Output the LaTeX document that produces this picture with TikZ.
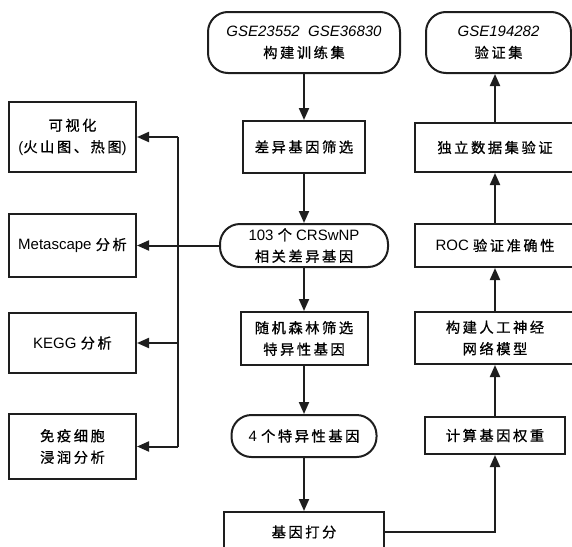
\documentclass[tikz,border=0pt]{standalone}
\usepackage{fontspec}
\setmainfont{Liberation Sans}
\newfontfamily\cjk[Scale=0.95,LetterSpace=18,FakeBold=0.8]{Noto Sans CJK SC}
\usepackage{tikz}
\usetikzlibrary{arrows.meta, positioning}
\definecolor{mydark}{RGB}{30,30,30}
\newcommand{\zh}[1]{{\cjk #1}}
\tikzset{
  block/.style={rectangle, draw=mydark, align=center, inner sep=0pt,
    font=\fontsize{15}{21.5}\selectfont, line width=2pt},
  term/.style={block, rounded corners=20pt},
  arrow/.style={-{Triangle[length=12pt,width=10pt]}, line width=2pt, color=mydark},
  line/.style={line width=2pt, color=mydark}
}

\begin{document}
\begin{tikzpicture}[x=1pt, y=-1pt]
  \useasboundingbox (0,0) rectangle (572,546);
  % middle column
  \node[term, minimum width=192pt, minimum height=61pt] (train) at (304,42.5)
    {\textit{GSE23552\ \ GSE36830}\\\zh{构建训练集}};
  \node[block, minimum width=122pt, minimum height=52pt] (diff) at (304,147) {\zh{差异基因筛选}};
  \node[term, minimum width=168pt, minimum height=43pt] (deg) at (304,245.5)
    {103 \zh{个} CRSwNP\\\zh{相关差异基因}};
  \node[block, minimum width=127pt, minimum height=53pt] (rf) at (304,338.5)
    {\zh{随机森林筛选}\\\zh{特异性基因}};
  \node[term, minimum width=145pt, minimum height=42pt] (four) at (304,436) {4 \zh{个特异性基因}};
  \node[block, minimum width=160pt, minimum height=40pt] (score) at (304,532) {\zh{基因打分}};
  % left column
  \node[block, minimum width=127pt, minimum height=70pt] (vis) at (72.5,137)
    {\zh{可视化}\\(\zh{火山图、热图})};
  \node[block, minimum width=127pt, minimum height=63pt] (meta) at (72.5,245.5) {Metascape \zh{分析}};
  \node[block, minimum width=127pt, minimum height=60pt] (kegg) at (72.5,343) {KEGG \zh{分析}};
  \node[block, minimum width=127pt, minimum height=65pt] (immune) at (72.5,446.5)
    {\zh{免疫细胞}\\\zh{浸润分析}};
  % right column
  \node[term, minimum width=145pt, minimum height=61pt] (valid) at (498.5,42.5)
    {\textit{GSE194282}\\\zh{验证集}};
  \node[block, minimum width=160pt, minimum height=49pt] (indep) at (495,147.5) {\zh{独立数据集验证}};
  \node[block, minimum width=160pt, minimum height=43pt] (roc) at (495,245.5) {ROC \zh{验证准确性}};
  \node[block, minimum width=160pt, minimum height=52pt] (ann) at (495,338)
    {\zh{构建人工神经}\\\zh{网络模型}};
  \node[block, minimum width=140pt, minimum height=37pt] (weight) at (495,435.5) {\zh{计算基因权重}};
  \coordinate (bus) at (178,0);

  \draw[arrow] (train) -- (diff);
  \draw[arrow] (diff) -- (deg);
  \draw[arrow] (deg) -- (rf);
  \draw[arrow] (rf) -- (four);
  \draw[arrow] (four) -- (score);
  \draw[arrow] (score.east) -| (weight.south);
  \draw[arrow] (weight) -- (ann);
  \draw[arrow] (ann) -- (roc);
  \draw[arrow] (roc) -- (indep);
  \draw[arrow] (indep) -- (indep |- valid.south);
  \draw[arrow] (deg) -- (meta);
  \draw[line] (vis.east -| bus) -- (immune.east -| bus);
  \draw[arrow] (vis.east -| bus) -- (vis);
  \draw[arrow] (kegg.east -| bus) -- (kegg);
  \draw[arrow] (immune.east -| bus) -- (immune);
\end{tikzpicture}
\end{document}
